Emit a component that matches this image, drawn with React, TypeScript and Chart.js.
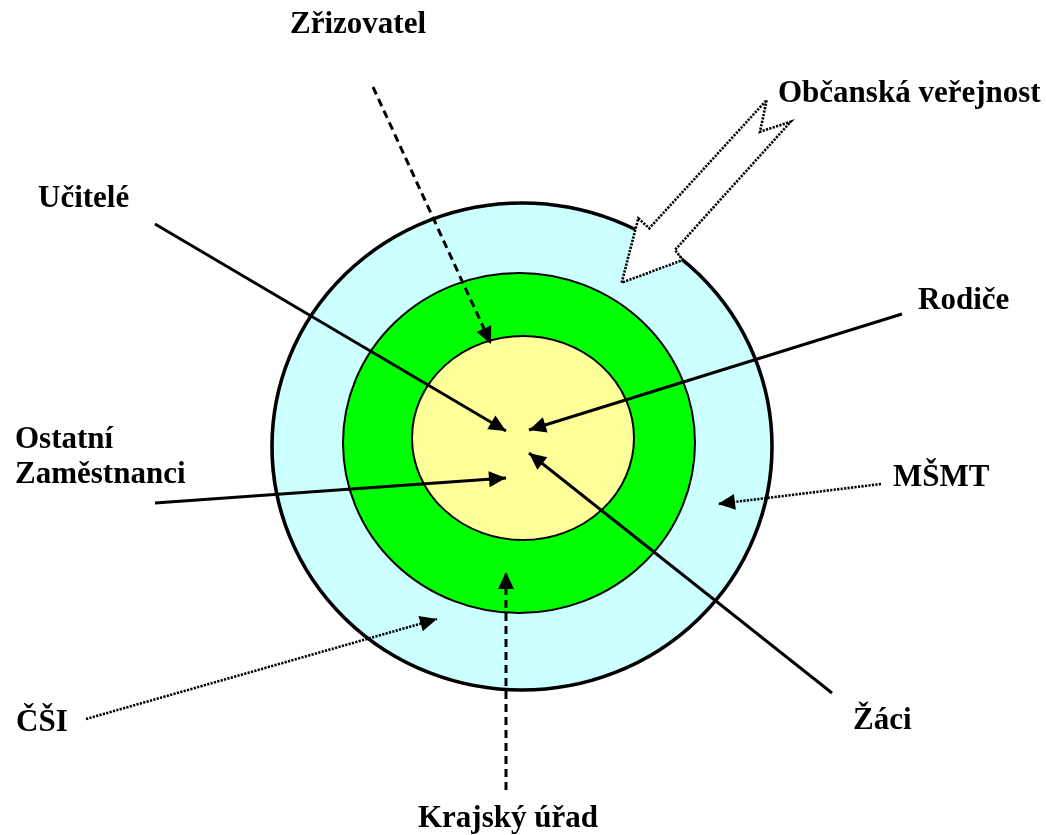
import React, { useEffect, useRef } from "react";
import { Chart, registerables } from "chart.js";

Chart.register(...registerables);

const W = 1046;
const H = 835;

// Concentric rings: outer (light blue), middle (green), core (yellow)
const ringCx = [522, 519, 523];
const ringCy = [446.5, 443, 438];
const ringRx = [250, 176, 111];
const ringRy = [243.5, 170, 102];
const ringFill = ["#ccffff", "#00ff00", "#ffff99"];
const ringLine = [3.6, 2, 2];

// Arrows (from label towards the centre)
const arrowNames = ["Zřizovatel", "Učitelé", "Rodiče", "Ostatní Zaměstnanci", "MŠMT", "Žáci", "ČŠI", "Krajský úřad"];
const arrowFromX = [373, 155, 902, 155, 881, 832, 86, 506];
const arrowFromY = [87, 224, 314, 503, 484, 693, 719, 790];
const arrowToX = [491, 506, 529, 506, 718, 529, 437, 506];
const arrowToY = [344, 431, 430, 478, 504, 453, 619, 572];
const arrowKind = ["dashed", "solid", "solid", "solid", "dotted", "solid", "dotted", "dashed"];

// Hollow block arrow "Občanská veřejnost" (outline points)
const blockX = [621.7, 638.3, 649.3, 766.7, 760, 790.7, 675, 682.7, 621.7];
const blockY = [282.7, 218.3, 228.3, 100, 131.7, 121.7, 250, 260, 282.7];

// Labels (left edge, baseline)
const labelTexts = ["Zřizovatel", "Občanská veřejnost", "Učitelé", "Rodiče", "Ostatní", "Zaměstnanci", "MŠMT", "ČŠI", "Žáci", "Krajský úřad"];
const labelX = [290, 778, 38, 918, 15, 15, 893, 16, 853, 418];
const labelY = [33, 102, 207, 309, 448, 483, 486, 731, 729, 827];

const FONT = 'bold 31px "Liberation Serif", "Times New Roman", serif';

const dashFor = (k: string) => (k === "dashed" ? [8, 5] : k === "dotted" ? [2.2, 1.3] : []);
const widthFor = (k: string) => (k === "dotted" ? 2.6 : k === "dashed" ? 3 : 2.9);

const ringsPlugin = {
  id: "rings",
  beforeDatasetsDraw(chart: any) {
    const { ctx, scales } = chart;
    const xs = scales.x;
    const ys = scales.y;
    ringCx.forEach((cx, i) => {
      const px = xs.getPixelForValue(cx);
      const py = ys.getPixelForValue(ringCy[i]);
      const rx = Math.abs(xs.getPixelForValue(cx + ringRx[i]) - px);
      const ry = Math.abs(ys.getPixelForValue(ringCy[i] + ringRy[i]) - py);
      ctx.save();
      ctx.beginPath();
      ctx.ellipse(px, py, rx, ry, 0, 0, Math.PI * 2);
      ctx.fillStyle = ringFill[i];
      ctx.fill();
      ctx.lineWidth = ringLine[i];
      ctx.strokeStyle = "#000";
      ctx.stroke();
      ctx.restore();
    });
  },
};

const arrowheadPlugin = {
  id: "arrowheads",
  afterDatasetsDraw(chart: any) {
    const { ctx, scales } = chart;
    const xs = scales.x;
    const ys = scales.y;
    arrowNames.forEach((_, i) => {
      const x0 = xs.getPixelForValue(arrowFromX[i]);
      const y0 = ys.getPixelForValue(arrowFromY[i]);
      const x1 = xs.getPixelForValue(arrowToX[i]);
      const y1 = ys.getPixelForValue(arrowToY[i]);
      const a = Math.atan2(y1 - y0, x1 - x0);
      const len = 17;
      const half = 8;
      const bx = x1 - Math.cos(a) * len;
      const by = y1 - Math.sin(a) * len;
      ctx.save();
      ctx.beginPath();
      ctx.moveTo(x1, y1);
      ctx.lineTo(bx + Math.sin(a) * half, by - Math.cos(a) * half);
      ctx.lineTo(bx - Math.sin(a) * half, by + Math.cos(a) * half);
      ctx.closePath();
      ctx.fillStyle = "#000";
      ctx.fill();
      ctx.restore();
    });
  },
};

const labelsPlugin = {
  id: "labels",
  afterDraw(chart: any) {
    const { ctx, scales } = chart;
    ctx.save();
    ctx.font = FONT;
    ctx.fillStyle = "#000";
    ctx.textAlign = "left";
    ctx.textBaseline = "alphabetic";
    labelTexts.forEach((t, i) => {
      ctx.fillText(t, scales.x.getPixelForValue(labelX[i]), scales.y.getPixelForValue(labelY[i]));
    });
    ctx.restore();
  },
};

export default function App() {
  const ref = useRef<HTMLCanvasElement | null>(null);

  useEffect(() => {
    document.body.style.margin = "0";
    const canvas = ref.current;
    if (!canvas) return;

    const arrowSets = arrowNames.map((name, i) => ({
      label: name,
      data: [
        { x: arrowFromX[i], y: arrowFromY[i] },
        { x: arrowToX[i], y: arrowToY[i] },
      ],
      showLine: true,
      borderColor: "#000",
      borderWidth: widthFor(arrowKind[i]),
      borderDash: dashFor(arrowKind[i]),
      borderCapStyle: "butt",
      pointRadius: 0,
      fill: false,
      order: 1,
    }));

    const blockSet = {
      label: "Občanská veřejnost",
      data: blockX.map((x, i) => ({ x, y: blockY[i] })),
      showLine: true,
      borderColor: "#000",
      borderWidth: 2.6,
      borderDash: [2.2, 1.3],
      borderJoinStyle: "miter",
      backgroundColor: "#ffffff",
      fill: "shape",
      pointRadius: 0,
      order: 0,
    };

    const chart = new Chart(canvas, {
      type: "scatter",
      data: { datasets: [blockSet, ...arrowSets] as any },
      options: {
        responsive: false,
        animation: false,
        events: [],
        layout: { padding: 0, autoPadding: false } as any,
        plugins: {
          legend: { display: false },
          tooltip: { enabled: false },
          title: { display: false },
        },
        scales: {
          x: { type: "linear", min: 0, max: W, display: false },
          y: { type: "linear", min: 0, max: H, reverse: true, display: false },
        },
      },
      plugins: [ringsPlugin, arrowheadPlugin, labelsPlugin],
    });

    return () => chart.destroy();
  }, []);

  return <canvas ref={ref} width={W} height={H} style={{ display: "block" }} />;
}
